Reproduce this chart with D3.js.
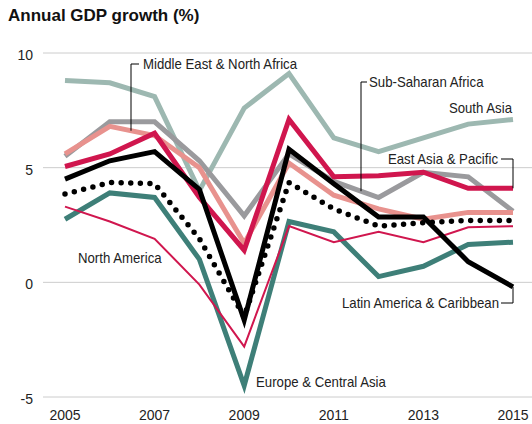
<!DOCTYPE html>
<html>
<head>
<meta charset="utf-8">
<script src="https://cdn.jsdelivr.net/npm/d3@7"></script>
<style>
  body { margin: 0; background: #fff; }
  svg { display: block; }
  .lbl { font-family: "Liberation Sans", sans-serif; font-size: 15px; fill: #222; }
  .tick-lbl { font-family: "Liberation Sans", sans-serif; font-size: 14px; fill: #222; }
</style>
</head>
<body>
<script>
// years on the x axis
var years = [2005, 2006, 2007, 2008, 2009, 2010, 2011, 2012, 2013, 2014, 2015];

// annual GDP growth, %
var southAsia    = [8.8, 8.7, 8.1, 4.0, 7.6, 9.1, 6.3, 5.7, 6.3, 6.9, 7.1];
var subSaharan   = [5.5, 7.0, 7.0, 5.3, 2.9, 5.6, 4.4, 3.7, 4.8, 4.6, 3.1];
var middleEast   = [5.6, 6.8, 6.4, 5.0, 1.7, 5.2, 3.8, 3.2, 2.75, 3.05, 3.05];
var europeCA     = [2.75, 3.9, 3.7, 1.0, -4.5, 2.65, 2.2, 0.25, 0.7, 1.65, 1.75];
var northAmerica = [3.3, 2.65, 1.9, -0.1, -2.8, 2.45, 1.75, 2.2, 1.75, 2.4, 2.45];
var world        = [3.85, 4.35, 4.3, 1.9, -1.5, 4.35, 3.2, 2.45, 2.6, 2.7, 2.7];
var eastAsia     = [5.05, 5.6, 6.5, 3.7, 1.4, 7.1, 4.6, 4.65, 4.8, 4.1, 4.1];
var latinAmerica = [4.5, 5.3, 5.7, 4.05, -1.65, 5.8, 4.3, 2.85, 2.85, 0.9, -0.2];

var yTicks = [-5, 0, 5, 10];
var xTicks = [2005, 2007, 2009, 2011, 2013, 2015];

var width = 532, height = 424;

var svg = d3.select("body").append("svg")
  .attr("width", width)
  .attr("height", height);

var x = d3.scaleLinear().domain([2005, 2015]).range([65, 513]);
var y = d3.scaleLinear().domain([-5, 10]).range([397, 53]);

// title
svg.append("text")
  .attr("x", 8)
  .attr("y", 21)
  .style("font-family", "'Liberation Sans', sans-serif")
  .style("font-weight", "bold")
  .style("font-size", "17px")
  .style("fill", "#111")
  .text("Annual GDP growth (%)");

// gridlines + y labels
svg.selectAll(".grid")
  .data(yTicks)
  .enter().append("line")
  .attr("x1", 43).attr("x2", width)
  .attr("y1", function(d) { return y(d); })
  .attr("y2", function(d) { return y(d); })
  .attr("stroke", "#cccccc")
  .attr("stroke-width", 1);

svg.selectAll(".ylbl")
  .data(yTicks)
  .enter().append("text")
  .attr("class", "tick-lbl")
  .attr("x", 33)
  .attr("y", function(d) { return y(d) + 7; })
  .attr("text-anchor", "end")
  .text(function(d) { return d; });

svg.selectAll(".xlbl")
  .data(xTicks)
  .enter().append("text")
  .attr("class", "tick-lbl")
  .attr("x", function(d) { return x(d); })
  .attr("y", 420)
  .attr("text-anchor", "middle")
  .text(function(d) { return d; });

var line = d3.line()
  .x(function(d, i) { return x(years[i]); })
  .y(function(d) { return y(d); });

// draw order: back to front
var series = [
  { values: southAsia,    color: "#9db8b1", w: 5 },
  { values: subSaharan,   color: "#9a9a9d", w: 5 },
  { values: middleEast,   color: "#e8928e", w: 5 },
  { values: europeCA,     color: "#3e7f78", w: 5 },
  { values: northAmerica, color: "#d0164e", w: 2 },
  { values: world,        color: "#000000", w: 5, dots: true },
  { values: eastAsia,     color: "#d0164e", w: 5 },
  { values: latinAmerica, color: "#000000", w: 5 }
];

series.forEach(function(s) {
  var p = svg.append("path")
    .datum(s.values)
    .attr("fill", "none")
    .attr("stroke", s.color)
    .attr("stroke-width", s.w)
    .attr("stroke-linejoin", "miter")
    .attr("d", line);
  if (s.dots) {
    p.attr("stroke-dasharray", "0 9.6")
     .attr("stroke-linecap", "round")
     .attr("stroke-width", 5.5);
  }
});

// value of a series at a fractional year
function valueAt(vals, yr) {
  var i = Math.min(Math.floor(yr - 2005), vals.length - 2);
  var t = yr - 2005 - i;
  return vals[i] * (1 - t) + vals[i + 1] * t;
}

function leader(pts) {
  svg.append("path")
    .attr("d", d3.line()(pts))
    .attr("fill", "none")
    .attr("stroke", "#000")
    .attr("stroke-width", 1);
}

// condensed look: squeeze the regular face a bit
function label(xp, yp, txt, anchor) {
  var t = svg.append("text").attr("class", "lbl")
    .attr("x", xp).attr("y", yp)
    .attr("text-anchor", anchor || "start")
    .text(txt);
  var len = t.node().getComputedTextLength();
  t.attr("textLength", len * 0.88).attr("lengthAdjust", "spacingAndGlyphs");
  return t;
}

// Middle East & North Africa
var meX = 131;
leader([[139, 64], [meX, 64], [meX, y(valueAt(middleEast, x.invert(meX)))]]);
label(143, 69, "Middle East & North Africa");

// Sub-Saharan Africa
var ssX = 361;
leader([[367, 82], [ssX, 82], [ssX, y(valueAt(subSaharan, x.invert(ssX)))]]);
label(369, 87, "Sub-Saharan Africa");

// South Asia
label(512, 113, "South Asia", "end");

// East Asia & Pacific
var endX = x(2015);
leader([[501, 159], [endX, 159], [endX, y(eastAsia[eastAsia.length - 1])]]);
label(498, 164, "East Asia & Pacific", "end");

// Latin America & Caribbean
leader([[501, 303], [endX, 303], [endX, y(latinAmerica[latinAmerica.length - 1])]]);
label(499, 308, "Latin America & Caribbean", "end");

// North America
label(78, 263, "North America");

// Europe & Central Asia
label(256, 387, "Europe & Central Asia");
</script>
</body>
</html>
